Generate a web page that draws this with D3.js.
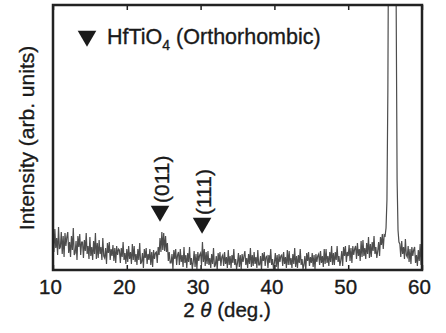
<!DOCTYPE html>
<html>
<head>
<meta charset="utf-8">
<script src="https://cdn.jsdelivr.net/npm/d3@7"></script>
<style>
	body { margin: 0; background: #fff; }
	text { font-family: "Liberation Sans", Arial, sans-serif; fill: #1a1a1a; stroke: #1a1a1a; stroke-width: 0.35px; }
</style>
</head>
<body>
<div id="xrd"><svg></svg></div>
<script>
// 2theta grid: 10 .. 60 deg, 0.125 deg step
var theta_start = 10, theta_step = 0.125;

// measured intensity (arb.), one row per degree
var intensity = [
	36, 18, 41, 22, 32, 15, 43, 21,
	23, 38, 16, 34, 13, 37, 24, 33,
	38, 17, 28, 13, 34, 20, 42, 15,
	17, 29, 10, 34, 23, 36, 15, 28,
	28, 12, 30, 19, 37, 16, 24, 11,
	33, 14, 23, 10, 29, 16, 37, 11,
	27, 12, 30, 16, 23, 10, 32, 14,
	12, 22, 6, 27, 17, 28, 10, 21,
	14, 25, 9, 22, 7, 24, 15, 21,
	20, 7, 22, 13, 28, 10, 17, 6,
	21, 8, 24, 11, 18, 6, 26, 10,
	24, 8, 16, 5, 21, 10, 27, 6,
	8, 17, 2, 21, 12, 22, 6, 16,
	10, 21, 5, 18, 3, 20, 11, 17,
	18, 7, 23, 15, 32, 18, 38, 20,
	37, 19, 34, 18, 27, 9, 18, 7,
	7, 16, 1, 20, 11, 21, 5, 15,
	18, 5, 21, 8, 15, 3, 23, 7,
	15, 2, 17, 8, 23, 5, 12, 1,
	8, 19, 3, 16, 1, 18, 9, 15,
	17, 5, 28, 8, 21, 4, 18, 6,
	19, 5, 12, 2, 16, 6, 22, 3,
	5, 14, 0, 17, 9, 18, 4, 13,
	15, 4, 18, 6, 13, 2, 20, 5,
	14, 2, 15, 7, 21, 5, 11, 1,
	7, 17, 3, 15, 1, 16, 8, 14,
	19, 5, 12, 2, 16, 6, 22, 3,
	15, 4, 18, 6, 13, 2, 20, 5,
	5, 14, 0, 17, 9, 18, 4, 13,
	14, 2, 15, 7, 21, 5, 11, 1,
	7, 17, 3, 15, 1, 16, 8, 14,
	15, 4, 18, 6, 13, 2, 20, 5,
	19, 5, 12, 2, 16, 6, 22, 3,
	14, 2, 15, 7, 21, 5, 11, 1,
	5, 14, 0, 17, 9, 18, 4, 13,
	7, 17, 3, 15, 1, 16, 8, 14,
	16, 5, 19, 7, 14, 3, 21, 6,
	21, 7, 14, 4, 18, 8, 24, 5,
	17, 5, 18, 10, 24, 8, 14, 4,
	10, 19, 4, 23, 14, 24, 8, 18,
	14, 25, 9, 22, 7, 24, 15, 21,
	24, 11, 27, 14, 21, 9, 29, 13,
	30, 14, 22, 11, 27, 16, 33, 12,
	26, 13, 28, 19, 34, 16, 23, 12,
	19, 28, 14, 33, 25, 36, 21, 35,
	34, 42, 70, 180, 400, 800, 1500, 2500,
	2500, 1500, 800, 400, 265, 90, 40, 28,
	26, 13, 29, 16, 23, 11, 31, 15,
	13, 24, 8, 21, 6, 23, 14, 20,
	23, 7, 15, 4, 20, 9, 26, 5,
	10
];

var x_ticks = [10, 20, 30, 40, 50, 60];

// HfTiO4 (orthorhombic) reflections
var peak_labels = ["(011)", "(111)"];
var peak_theta = [24.5, 30.2];
var peak_marker = [53, 41];

var xrd_data = intensity.map(function(v, i) {
	return { t: theta_start + i * theta_step, v: v };
});

var width = 446, height = 333;
var p_left = 53, p_right = 422, p_top = 5, p_bottom = 270;

var svg = d3.select("#xrd").select("svg")
	.attr("width", width)
	.attr("height", height);

var x = d3.scaleLinear().domain([10, 60]).range([p_left, p_right]);
var y = d3.scaleLinear().domain([0, 265]).range([p_bottom, p_top]);

svg.append("clipPath")
	.attr("id", "plotclip")
	.append("rect")
	.attr("x", p_left)
	.attr("y", p_top)
	.attr("width", p_right - p_left)
	.attr("height", p_bottom - p_top);

var line = d3.line()
	.x(function(d) { return x(d.t); })
	.y(function(d) { return y(d.v); });

svg.append("path")
	.datum(xrd_data)
	.attr("clip-path", "url(#plotclip)")
	.attr("d", line)
	.style("fill", "none")
	.style("stroke", "#4d4d4d")
	.style("stroke-width", 1.2);

// frame
svg.append("rect")
	.attr("x", p_left)
	.attr("y", p_top)
	.attr("width", p_right - p_left)
	.attr("height", p_bottom - p_top)
	.style("fill", "none")
	.style("stroke", "#222")
	.style("stroke-width", 2.5);

var xAxis = d3.axisBottom(x)
	.tickValues(x_ticks)
	.tickFormat(d3.format("d"))
	.tickSizeInner(-5)
	.tickSizeOuter(0)
	.tickPadding(9);

var gx = svg.append("g")
	.attr("transform", "translate(0," + p_bottom + ")")
	.call(xAxis);
gx.select(".domain").remove();
gx.selectAll("line").style("stroke", "#222").style("stroke-width", 1.5);
gx.selectAll("text")
	.attr("dx", -3)
	.style("font-size", "20.5px")
	.style("font-family", "'Liberation Sans', Arial, sans-serif")
	.style("fill", "#1a1a1a");

var gx2 = svg.append("g")
	.attr("transform", "translate(0," + p_top + ")")
	.call(d3.axisTop(x).tickValues(x_ticks).tickSizeInner(-5).tickSizeOuter(0).tickFormat(""));
gx2.select(".domain").remove();
gx2.selectAll("line").style("stroke", "#222").style("stroke-width", 1.5);

// axis titles
var xt = svg.append("text")
	.attr("x", 227)
	.attr("y", 317)
	.style("text-anchor", "middle")
	.style("font-size", "20.5px");
xt.append("tspan").text("2 ");
xt.append("tspan").style("font-style", "italic").text("θ");
xt.append("tspan").text(" (deg.)");

svg.append("text")
	.attr("transform", "translate(34,138) rotate(-90)")
	.style("text-anchor", "middle")
	.style("font-size", "21px")
	.text("Intensity (arb. units)");

// legend
var tri = d3.symbol().type(d3.symbolTriangle).size(150);

svg.append("path")
	.attr("d", tri)
	.attr("transform", "translate(87,36) rotate(180)")
	.style("fill", "#1a1a1a");

var lg = svg.append("text")
	.attr("x", 107)
	.attr("y", 44)
	.style("font-size", "21.5px");
lg.append("tspan").text("HfTiO");
lg.append("tspan").attr("dy", 6).style("font-size", "14px").text("4");
lg.append("tspan").attr("dy", -6).text(" (Orthorhombic)");

// peak markers
svg.selectAll(".pk")
	.data(peak_theta)
	.enter()
	.append("path")
	.attr("class", "pk")
	.attr("d", tri)
	.attr("transform", function(d, i) { return "translate(" + x(d) + "," + (y(peak_marker[i]) - 6) + ") rotate(180)"; })
	.style("fill", "#1a1a1a");

svg.selectAll(".pl")
	.data(peak_theta)
	.enter()
	.append("text")
	.attr("class", "pl")
	.attr("transform", function(d, i) { return "translate(" + (x(d) + 9) + "," + (y(peak_marker[i]) - 14) + ") rotate(-90)"; })
	.style("font-size", "21px")
	.text(function(d, i) { return peak_labels[i]; });
</script>
</body>
</html>
